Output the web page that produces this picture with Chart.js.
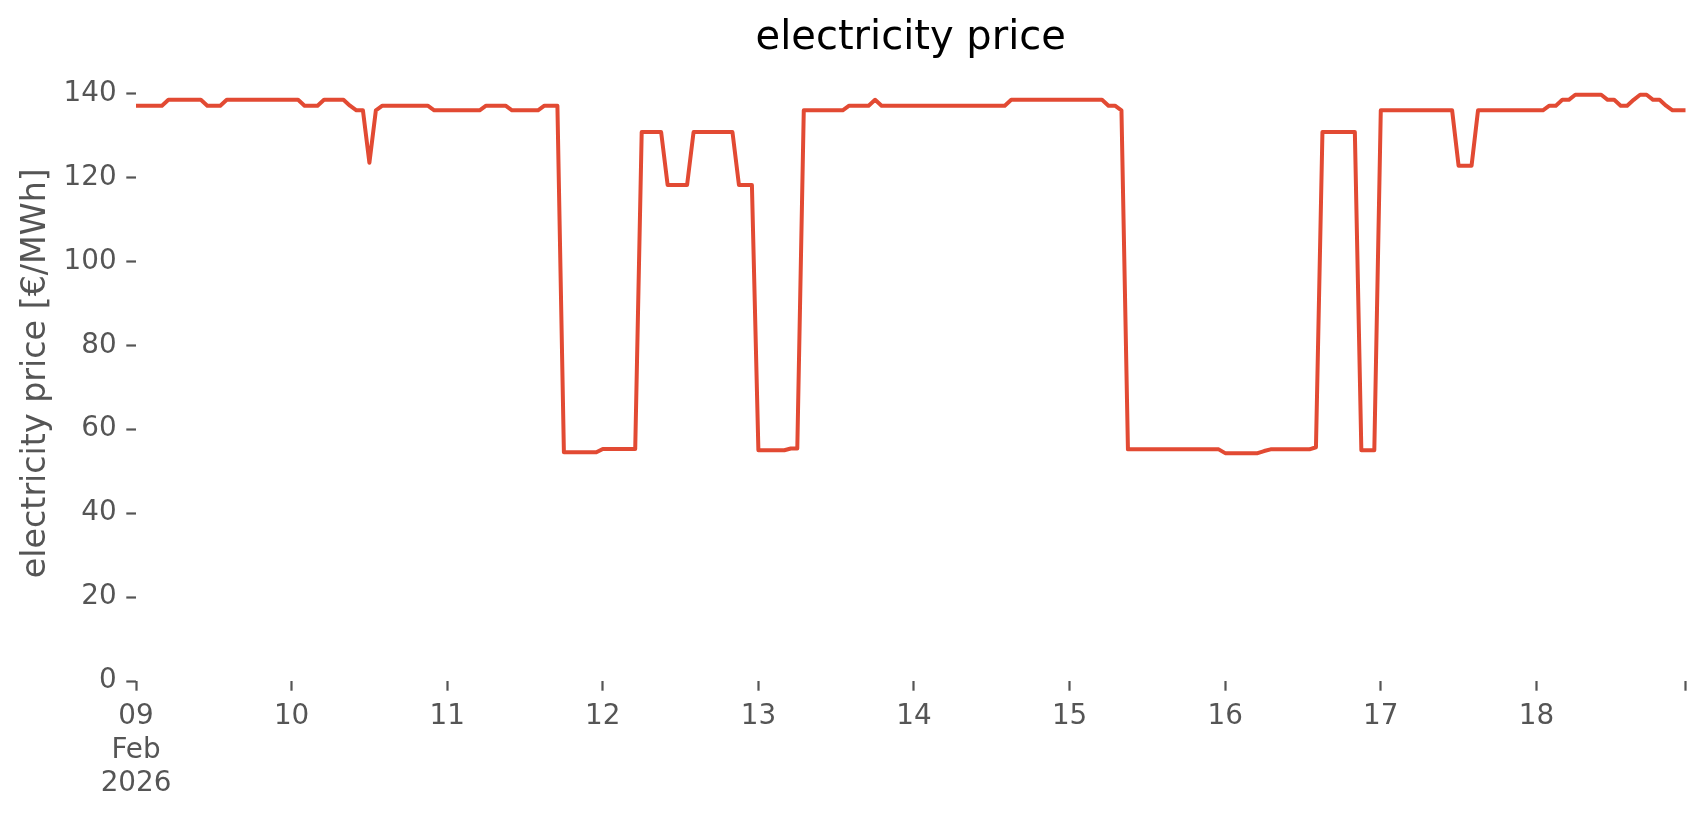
<!DOCTYPE html>
<html>
<head>
<meta charset="utf-8">
<script src="https://cdn.jsdelivr.net/npm/chart.js@4.4.1/dist/chart.umd.min.js"></script>
<style>
  html, body { margin: 0; padding: 0; background: #ffffff; }
  #wrap { width: 1706px; height: 815px; }
</style>
</head>
<body>
<div id="wrap"><canvas id="c" width="1706" height="815"></canvas></div>
<script>
// ---- data (hourly, 09 Feb 2026 00:00 .. 18 Feb 2026 23:00) ----
const chartTitle = 'electricity price';
const yAxisTitle = 'electricity price [€/MWh]';
const dayTickLabels = ['09', '10', '11', '12', '13', '14', '15', '16', '17', '18'];
const firstTickExtra = ['Feb', '2026'];
const yTickValues = [0, 20, 40, 60, 80, 100, 120, 140];

const priceDay09 = [137.1,137.1,137.1,137.1,137.1,138.5,138.5,138.5,138.5,138.5,138.5,137.1,
                    137.1,137.1,138.5,138.5,138.5,138.5,138.5,138.5,138.5,138.5,138.5,138.5];
const priceDay10 = [138.5,138.5,137.1,137.1,137.1,138.5,138.5,138.5,138.5,137.1,136.0,136.0,
                    123.5,136.0,137.1,137.1,137.1,137.1,137.1,137.1,137.1,137.1,136.0,136.0];
const priceDay11 = [136.0,136.0,136.0,136.0,136.0,136.0,137.1,137.1,137.1,137.1,136.0,136.0,
                    136.0,136.0,136.0,137.1,137.1,137.1,54.5,54.5,54.5,54.5,54.5,54.5];
const priceDay12 = [55.3,55.3,55.3,55.3,55.3,55.3,130.8,130.8,130.8,130.8,118.2,118.2,
                    118.2,118.2,130.8,130.8,130.8,130.8,130.8,130.8,130.8,118.2,118.2,118.2];
const priceDay13 = [55.0,55.0,55.0,55.0,55.0,55.4,55.4,136.0,136.0,136.0,136.0,136.0,
                    136.0,136.0,137.1,137.1,137.1,137.1,138.5,137.1,137.1,137.1,137.1,137.1];
const priceDay14 = [137.1,137.1,137.1,137.1,137.1,137.1,137.1,137.1,137.1,137.1,137.1,137.1,
                    137.1,137.1,137.1,138.5,138.5,138.5,138.5,138.5,138.5,138.5,138.5,138.5];
const priceDay15 = [138.5,138.5,138.5,138.5,138.5,138.5,137.1,137.1,136.0,55.2,55.2,55.2,
                    55.2,55.2,55.2,55.2,55.2,55.2,55.2,55.2,55.2,55.2,55.2,55.2];
const priceDay16 = [54.3,54.3,54.3,54.3,54.3,54.3,54.8,55.2,55.2,55.2,55.2,55.2,
                    55.2,55.2,55.7,130.8,130.8,130.8,130.8,130.8,130.8,55.0,55.0,55.0];
const priceDay17 = [136.0,136.0,136.0,136.0,136.0,136.0,136.0,136.0,136.0,136.0,136.0,136.0,
                    122.8,122.8,122.8,136.0,136.0,136.0,136.0,136.0,136.0,136.0,136.0,136.0];
const priceDay18 = [136.0,136.0,137.1,137.1,138.5,138.5,139.7,139.7,139.7,139.7,139.7,138.5,
                    138.5,137.1,137.1,138.5,139.7,139.7,138.5,138.5,137.1,136.0,136.0,136.0];

const prices = [].concat(priceDay09, priceDay10, priceDay11, priceDay12, priceDay13,
                         priceDay14, priceDay15, priceDay16, priceDay17, priceDay18);
const hourIndex = prices.map((_, i) => i);
const lastHour = hourIndex[hourIndex.length - 1];

const GRAY = '#555555';
const FONT = "'DejaVu Sans', 'Liberation Sans', sans-serif";

new Chart(document.getElementById('c'), {
  type: 'line',
  data: {
    labels: hourIndex,
    datasets: [{
      data: prices,
      borderColor: '#E24A33',
      borderWidth: 4,
      pointRadius: 0,
      pointHoverRadius: 0,
      tension: 0,
      fill: false,
      borderCapStyle: 'square',
      borderJoinStyle: 'round'
    }]
  },
  options: {
    responsive: false,
    animation: false,
    devicePixelRatio: 1,
    layout: { padding: { left: 0, right: 20.5, top: 0, bottom: 0 } },
    plugins: {
      legend: { display: false },
      tooltip: { enabled: false },
      title: {
        display: true,
        text: chartTitle,
        color: '#000000',
        fullSize: false,
        font: { family: FONT, size: 40, weight: 'normal', lineHeight: 1.2 },
        padding: { top: 14.4, bottom: 3 }
      }
    },
    scales: {
      x: {
        type: 'linear',
        min: 0,
        max: lastHour,
        afterFit: (s) => { s.height = 134; },
        afterBuildTicks: (s) => {
          const t = dayTickLabels.map((_, i) => ({ value: i * 24 }));
          t.push({ value: lastHour });
          s.ticks = t;
        },
        border: { display: false },
        grid: {
          display: true,
          drawOnChartArea: false,
          drawTicks: true,
          tickLength: 9.7,
          tickWidth: 2.2,
          tickColor: GRAY
        },
        ticks: {
          autoSkip: false,
          maxRotation: 0,
          minRotation: 0,
          padding: 9.7,
          color: GRAY,
          font: { family: FONT, size: 27.8, lineHeight: 1.2 },
          callback: (v) => {
            if (v === 0) return [dayTickLabels[0]].concat(firstTickExtra);
            if (v % 24 === 0) return dayTickLabels[v / 24];
            return '';
          }
        }
      },
      y: {
        type: 'linear',
        min: 0,
        max: 146.7,
        afterFit: (s) => { s.width = 136; },
        afterBuildTicks: (s) => { s.ticks = yTickValues.map(v => ({ value: v })); },
        border: { display: false },
        grid: {
          display: true,
          drawOnChartArea: false,
          drawTicks: true,
          tickLength: 9.7,
          tickWidth: 2.2,
          tickColor: GRAY
        },
        ticks: {
          padding: 9.7,
          color: GRAY,
          font: { family: FONT, size: 27.8 }
        },
        title: {
          display: true,
          text: yAxisTitle,
          color: GRAY,
          font: { family: FONT, size: 33.3, lineHeight: 1.2 },
          padding: { top: 16, bottom: 0 }
        }
      }
    }
  }
});
</script>
</body>
</html>
